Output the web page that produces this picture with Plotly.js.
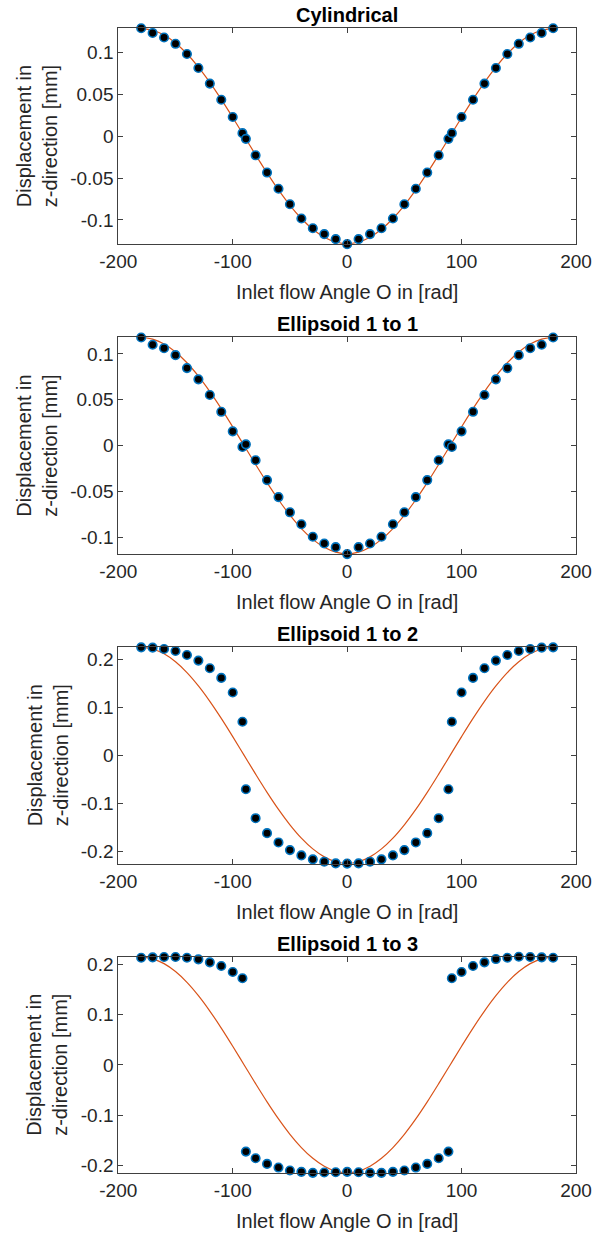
<!DOCTYPE html>
<html>
<head>
<meta charset="utf-8">
<script src="https://cdn.plot.ly/plotly-3.0.1.min.js"></script>
<style>html,body{margin:0;padding:0;background:#fff;}#chart{width:604px;height:1235px;}</style>
</head>
<body>
<div id="chart"></div>
<script>
// ---- data ----
const panelTitles = ["Cylindrical", "Ellipsoid 1 to 1", "Ellipsoid 1 to 2", "Ellipsoid 1 to 3"];
const xTitle = "Inlet flow Angle O in [rad]";
const yTitle = "Displacement in<br>z-direction [mm]";

const angles = [-180,-170,-160,-150,-140,-130,-120,-110,-100,-91.5,-88.5,-80,-70,-60,-50,-40,-30,-20,-10,0,
                10,20,30,40,50,60,70,80,88.5,91.5,100,110,120,130,140,150,160,170,180];

const cylindrical = [0.1289,0.1233,0.1178,0.1103,0.0982,0.0814,0.0628,0.0435,0.0229,0.0036,-0.0032,-0.0229,-0.0435,-0.0628,-0.0814,-0.0984,-0.1100,-0.1170,-0.1230,-0.1290,
                     -0.1230,-0.1170,-0.1100,-0.0984,-0.0814,-0.0628,-0.0435,-0.0229,-0.0032,0.0036,0.0229,0.0435,0.0628,0.0814,0.0982,0.1103,0.1178,0.1233,0.1289];

const ellipsoid11 = [0.1179,0.1100,0.1063,0.0987,0.0846,0.0723,0.0553,0.0369,0.0156,-0.0014,0.0014,-0.0159,-0.0376,-0.0561,-0.0727,-0.0857,-0.0994,-0.1067,-0.1107,-0.1183,
                     -0.1107,-0.1067,-0.0994,-0.0857,-0.0727,-0.0561,-0.0376,-0.0159,0.0014,-0.0014,0.0156,0.0369,0.0553,0.0723,0.0846,0.0987,0.1063,0.1100,0.1179];

const ellipsoid12 = [0.2245,0.2238,0.2210,0.2170,0.2086,0.1969,0.1810,0.1610,0.1306,0.0698,-0.0705,-0.1306,-0.1617,-0.1810,-0.1969,-0.2080,-0.2162,-0.2210,-0.2245,-0.2250,
                     -0.2245,-0.2210,-0.2162,-0.2080,-0.1969,-0.1810,-0.1617,-0.1306,-0.0705,0.0698,0.1306,0.1610,0.1810,0.1969,0.2086,0.2170,0.2210,0.2238,0.2245];

const ellipsoid13 = [0.2132,0.2139,0.2145,0.2145,0.2132,0.2099,0.2040,0.1967,0.1848,0.1723,-0.1723,-0.1855,-0.1967,-0.2040,-0.2099,-0.2125,-0.2145,-0.2139,-0.2132,-0.2125,
                     -0.2132,-0.2145,-0.2145,-0.2125,-0.2099,-0.2040,-0.1967,-0.1855,-0.1723,0.1723,0.1848,0.1967,0.2040,0.2105,0.2132,0.2150,0.2145,0.2139,0.2132];

const fitAngles = [-180,-170,-160,-150,-140,-130,-120,-110,-100,-90,-80,-70,-60,-50,-40,-30,-20,-10,0,
                   10,20,30,40,50,60,70,80,90,100,110,120,130,140,150,160,170,180];

const fitCylindrical = [0.1285,0.1265,0.1208,0.1113,0.0984,0.0826,0.0643,0.0439,0.0223,0,-0.0223,-0.0439,-0.0643,-0.0826,-0.0984,-0.1113,-0.1208,-0.1265,-0.1285,
                        -0.1265,-0.1208,-0.1113,-0.0984,-0.0826,-0.0643,-0.0439,-0.0223,0,0.0223,0.0439,0.0643,0.0826,0.0984,0.1113,0.1208,0.1265,0.1285];
const fitEllipsoid11 = [0.1180,0.1162,0.1109,0.1022,0.0904,0.0758,0.0590,0.0404,0.0205,0,-0.0205,-0.0404,-0.0590,-0.0758,-0.0904,-0.1022,-0.1109,-0.1162,-0.1180,
                        -0.1162,-0.1109,-0.1022,-0.0904,-0.0758,-0.0590,-0.0404,-0.0205,0,0.0205,0.0404,0.0590,0.0758,0.0904,0.1022,0.1109,0.1162,0.1180];
const fitEllipsoid12 = [0.2245,0.2211,0.2110,0.1944,0.1720,0.1443,0.1123,0.0768,0.0390,0,-0.0390,-0.0768,-0.1123,-0.1443,-0.1720,-0.1944,-0.2110,-0.2211,-0.2245,
                        -0.2211,-0.2110,-0.1944,-0.1720,-0.1443,-0.1123,-0.0768,-0.0390,0,0.0390,0.0768,0.1123,0.1443,0.1720,0.1944,0.2110,0.2211,0.2245];
const fitEllipsoid13 = [0.2143,0.2110,0.2014,0.1856,0.1642,0.1378,0.1072,0.0733,0.0372,0,-0.0372,-0.0733,-0.1072,-0.1378,-0.1642,-0.1856,-0.2014,-0.2110,-0.2143,
                        -0.2110,-0.2014,-0.1856,-0.1642,-0.1378,-0.1072,-0.0733,-0.0372,0,0.0372,0.0733,0.1072,0.1378,0.1642,0.1856,0.2014,0.2110,0.2143];

const yRanges = [[-0.1292,0.1292],[-0.1185,0.1185],[-0.2252,0.2252],[-0.2148,0.2152]];
const yTicks = [[-0.1,-0.05,0,0.05,0.1],[-0.1,-0.05,0,0.05,0.1],[-0.2,-0.1,0,0.1,0.2],[-0.2,-0.1,0,0.1,0.2]];
const xTicks = [-200,-100,0,100,200];

// ---- layout geometry (pixels) ----
const W = 604, H = 1235;
const boxLeft = 118.3, boxRight = 576;
const boxTops = [28, 337, 647, 956.7];
const boxBottoms = [244.3, 554.3, 863.7, 1173];
const yTitleX = [37, 37, 48, 47];

const seriesPoints = [cylindrical, ellipsoid11, ellipsoid12, ellipsoid13];
const seriesFit = [fitCylindrical, fitEllipsoid11, fitEllipsoid12, fitEllipsoid13];

const FONT = 'Arimo, "Liberation Sans", Arial, Helvetica, sans-serif';
const TXT = '#262626';
const AX = '#404040';

const traces = [];
const layout = {
  width: W, height: H,
  margin: {l:0, r:0, t:0, b:0},
  paper_bgcolor: '#fff', plot_bgcolor: '#fff',
  showlegend: false,
  font: {family: FONT, color: TXT, size: 19},
  annotations: []
};

for (let i = 0; i < 4; i++) {
  const sfx = i === 0 ? '' : String(i + 1);
  traces.push({
    x: fitAngles, y: seriesFit[i], type: 'scatter', mode: 'lines',
    line: {color: '#D95319', width: 1.2, shape: 'spline'},
    xaxis: 'x' + sfx, yaxis: 'y' + sfx, cliponaxis: false, hoverinfo: 'skip'
  });
  traces.push({
    x: angles, y: seriesPoints[i], type: 'scatter', mode: 'markers',
    marker: {color: '#000', size: 8.5, line: {color: '#0072BD', width: 1.6}},
    xaxis: 'x' + sfx, yaxis: 'y' + sfx, cliponaxis: false
  });
  const dom = [1 - boxBottoms[i] / H, 1 - boxTops[i] / H];
  layout['xaxis' + sfx] = {
    domain: [boxLeft / W, boxRight / W], range: [-200, 200], anchor: 'y' + sfx,
    tickvals: xTicks, ticktext: xTicks.map(String), ticks: 'inside', ticklen: 5, tickwidth: 1,
    tickcolor: AX, showline: true, linecolor: AX, linewidth: 1, mirror: 'ticks',
    showgrid: false, zeroline: false, tickfont: {size: 19, color: TXT, family: FONT}
  };
  layout['yaxis' + sfx] = {
    domain: dom, range: yRanges[i], anchor: 'x' + sfx,
    tickvals: yTicks[i], ticktext: yTicks[i].map(String), ticks: 'inside', ticklen: 5, tickwidth: 1,
    tickcolor: AX, showline: true, linecolor: AX, linewidth: 1, mirror: 'ticks',
    showgrid: false, zeroline: false, tickfont: {size: 19, color: TXT, family: FONT}
  };
  const cx = ((boxLeft + boxRight) / 2) / W;
  layout.annotations.push({
    text: '<b>' + panelTitles[i] + '</b>', xref: 'paper', yref: 'paper',
    x: cx, y: 1 - (boxTops[i] - 13) / H, xanchor: 'center', yanchor: 'middle',
    showarrow: false, font: {size: 20, color: '#000', family: FONT}
  });
  layout.annotations.push({
    text: xTitle, xref: 'paper', yref: 'paper',
    x: cx, y: 1 - (boxBottoms[i] + 48) / H, xanchor: 'center', yanchor: 'middle',
    showarrow: false, font: {size: 20, color: TXT, family: FONT}
  });
  layout.annotations.push({
    text: yTitle, xref: 'paper', yref: 'paper', textangle: -90,
    x: yTitleX[i] / W, y: 1 - ((boxTops[i] + boxBottoms[i]) / 2) / H, xanchor: 'center', yanchor: 'middle',
    showarrow: false, font: {size: 20, color: TXT, family: FONT}
  });
}

Plotly.newPlot('chart', traces, layout, {staticPlot: true, displayModeBar: false});
</script>
</body>
</html>
